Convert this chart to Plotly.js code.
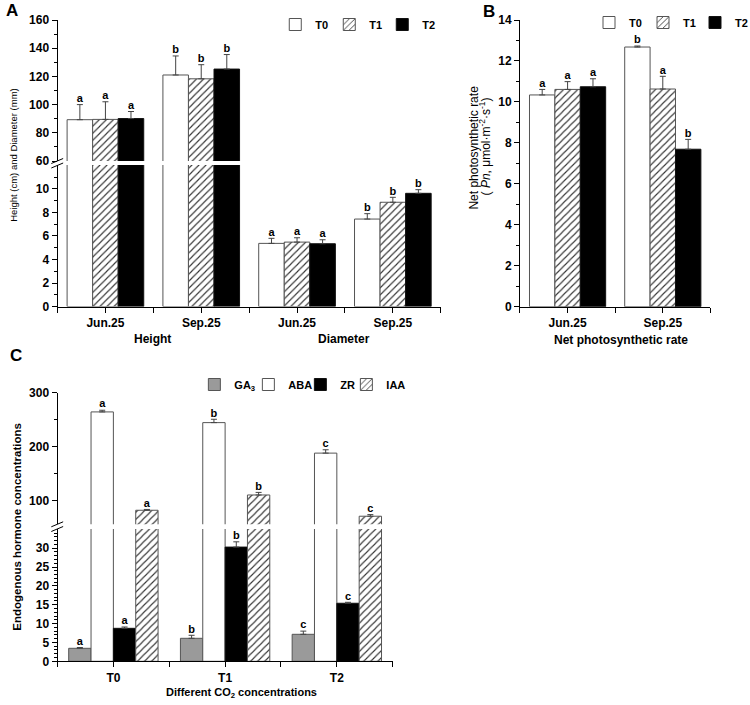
<!DOCTYPE html>
<html>
<head>
<meta charset="utf-8">
<script src="https://cdn.plot.ly/plotly-3.0.1.min.js"></script>
<style>
  body { margin: 0; background: #fff; }
  #graph { width: 750px; height: 705px; }
</style>
</head>
<body>
<div id="graph"></div>
<script>
// ---- data: panel A (height in cm, diameter in mm) ----
var catsA = ["Jun.25", "Sep.25", "Jun.25", "Sep.25"];
var groupsA = ["Height", "Diameter"];
var seriesA = ["T0", "T1", "T2"];
var valsA = [
    [89.3, 121.0, 5.37, 7.44],
    [89.5, 118.3, 5.48, 8.87],
    [90.1, 125.2, 5.34, 9.63]
];
var errA = [
    [10.7, 13.5, 0.43, 0.46],
    [12.5, 10.0, 0.37, 0.42],
    [5.0, 10.3, 0.34, 0.31]
];
var lettersA = [
    ["a", "b", "a", "b"],
    ["a", "b", "a", "b"],
    ["a", "b", "a", "b"]
];

// ---- data: panel B (net photosynthetic rate) ----
var catsB = ["Jun.25", "Sep.25"];
var seriesB = ["T0", "T1", "T2"];
var valsB = [
    [10.34, 12.68],
    [10.61, 10.63],
    [10.74, 7.69]
];
var errB = [
    [0.27, 0.05],
    [0.38, 0.62],
    [0.39, 0.48]
];
var lettersB = [
    ["a", "b"],
    ["a", "a"],
    ["a", "b"]
];

// ---- data: panel C (endogenous hormones) ----
var catsC = ["T0", "T1", "T2"];
var seriesC = ["GA<sub>3</sub>", "ABA", "ZR", "IAA"];
var valsC = [
    [3.45, 6.1, 7.16],
    [264.3, 244.4, 187.7],
    [8.75, 30.3, 15.4],
    [81.5, 109.9, 70.4]
];
var errC = [
    [0.2, 0.8, 0.85],
    [3.1, 6.2, 6.2],
    [0.35, 1.4, 0.25],
    [1.5, 4.8, 3.0]
];
var lettersC = [
    ["a", "b", "c"],
    ["a", "b", "c"],
    ["a", "b", "c"],
    ["a", "b", "c"]
];

// ---- styles ----
var FONT = "Liberation Sans, Arial, sans-serif";
var W = 750, H = 705;
function px(x) { return x / W; }
function py(y) { return 1 - y / H; }

var whiteBar = { color: "#ffffff", line: { color: "#555", width: 1 } };
var hatchBar = {
    color: "#ffffff", line: { color: "#555", width: 1 },
    pattern: { shape: "/", fgcolor: "#333", bgcolor: "#ffffff", size: 5, solidity: 0.22 }
};
var blackBar = { color: "#000000", line: { color: "#111", width: 1 } };
var grayBar = { color: "#9a9a9a", line: { color: "#555", width: 1 } };

var traces = [];

function barTrace(name, xs, ys, es, style, xa, ya, legendId, showlegend, lw) {
    return {
        type: "bar", name: name, x: xs, y: ys,
        xaxis: xa, yaxis: ya, offsetgroup: name,
        marker: style,
        error_y: {
            type: "data", symmetric: false, array: es,
            arrayminus: es.map(function () { return 0; }),
            color: "#444", thickness: 1, width: 3
        },
        legend: legendId, showlegend: showlegend, legendwidth: lw, hoverinfo: "skip"
    };
}

// significance letters, only for the points that fall inside this axis segment
function letterTrace(name, xs, ys, es, letters, xa, ya, range) {
    var lx = [], ly = [], lt = [];
    ys.forEach(function (v, i) {
        var top = v + es[i];
        if (top >= range[0] && top <= range[1]) {
            lx.push(xs[i]); ly.push(top); lt.push(letters[i]);
        }
    });
    if (!lx.length) return null;
    return {
        type: "scatter", mode: "text", name: name, x: lx, y: ly, text: lt,
        textposition: "top center",
        textfont: { family: FONT, size: 11, color: "#000", weight: "bold" },
        offsetgroup: name, xaxis: xa, yaxis: ya, cliponaxis: false,
        showlegend: false, hoverinfo: "skip"
    };
}

// one panel, possibly split over two y axes (broken axis)
function addPanel(cats, series, vals, errs, letters, styles, xa, yaxes, ranges, legendId, widths) {
    var xs = cats.map(function (c, i) { return i; });
    series.forEach(function (name, k) {
        yaxes.forEach(function (ya, j) {
            traces.push(barTrace(name, xs, vals[k], errs[k], styles[k], xa, ya, legendId, j === 0, widths[k]));
        });
    });
    series.forEach(function (name, k) {
        yaxes.forEach(function (ya, j) {
            var t = letterTrace(name, xs, vals[k], errs[k], letters[k], xa, ya, ranges[j]);
            if (t) traces.push(t);
        });
    });
}

var rangeA = [[0, 12.04], [60, 160]];
var rangeB = [[0, 14]];
var rangeC = [[0, 35.1], [55.4, 300]];

addPanel(catsA, seriesA, valsA, errA, lettersA, [whiteBar, hatchBar, blackBar], "x", ["y", "y2"], rangeA, "legend", [9, 8, 10]);
addPanel(catsB, seriesB, valsB, errB, lettersB, [whiteBar, hatchBar, blackBar], "x2", ["y3"], rangeB, "legend2", [9, 7, 10]);
addPanel(catsC, seriesC, valsC, errC, lettersC, [grayBar, whiteBar, blackBar, hatchBar], "x3", ["y4", "y5"], rangeC, "legend3", [9, 7, 1, 20]);

// ---- axes ----
var tickFont = { family: FONT, size: 12, color: "#000", weight: "bold" };

function steps(a, b, d, skip) {
    var out = [];
    for (var v = a; v <= b + 1e-9; v += d) {
        if (!skip || Math.abs(v / skip - Math.round(v / skip)) > 1e-6) out.push(v);
    }
    return out;
}

function xAxis(domain, anchor, cats) {
    var n = cats.length;
    return {
        domain: domain, anchor: anchor, range: [-0.5, n - 0.5],
        tickmode: "array", tickvals: cats.map(function (c, i) { return i; }), ticktext: cats,
        showline: true, linecolor: "#000", linewidth: 1,
        ticks: "outside", ticklen: 5, tickcolor: "#000",
        minor: { tickmode: "array", tickvals: steps(-0.5, n - 0.5, 1), ticks: "outside", ticklen: 5, tickcolor: "#000" },
        showgrid: false, zeroline: false, tickfont: tickFont, fixedrange: true
    };
}

function yAxis(domain, anchor, range, major, minor) {
    return {
        domain: domain, anchor: anchor, range: range,
        tickmode: "array", tickvals: major,
        showline: true, linecolor: "#000", linewidth: 1,
        ticks: "outside", ticklen: 5, tickcolor: "#000",
        minor: { tickmode: "array", tickvals: minor, ticks: "outside", ticklen: 3, tickcolor: "#000" },
        showgrid: false, zeroline: false, tickfont: tickFont, fixedrange: true
    };
}

var legendBase = {
    orientation: "h", xanchor: "left", yanchor: "top",
    font: { family: FONT, size: 11, color: "#000", weight: "bold" },
    bgcolor: "rgba(0,0,0,0)", itemclick: false, itemdoubleclick: false
};

function ann(text, x, y, opts) {
    var a = {
        text: text, x: px(x), y: py(y), xref: "paper", yref: "paper",
        showarrow: false, xanchor: "center", yanchor: "middle",
        font: { family: FONT, size: 12, color: "#000", weight: "bold" }
    };
    for (var k in opts) a[k] = opts[k];
    return a;
}

// little "//" marks where an axis is broken
function slash(x, y) {
    return {
        type: "line", xref: "paper", yref: "paper",
        x0: px(x - 6), y0: py(y + 2.5), x1: px(x + 6), y1: py(y - 2.5),
        line: { color: "#000", width: 1 }
    };
}

var layout = {
    width: W, height: H,
    margin: { l: 0, r: 0, t: 0, b: 0 },
    paper_bgcolor: "#fff", plot_bgcolor: "rgba(0,0,0,0)",
    barmode: "group", bargap: 0.2, bargroupgap: 0,
    scattermode: "group", scattergap: 0.2,
    showlegend: true,
    font: { family: FONT, color: "#000" },

    xaxis: xAxis([px(58.3), px(446.7)], "y", catsA),
    yaxis: yAxis([py(306.5), py(165)], "x", rangeA[0], steps(0, 10, 2), steps(1, 11, 2)),
    yaxis2: yAxis([py(161), py(20)], "x", rangeA[1], steps(60, 160, 20), steps(70, 150, 20)),

    xaxis2: xAxis([px(527), px(720)], "y3", catsB),
    yaxis3: yAxis([py(306.7), py(20)], "x2", rangeB[0], steps(0, 14, 2), steps(1, 13, 2)),

    xaxis3: xAxis([px(58.3), px(398)], "y4", catsC),
    yaxis4: yAxis([py(661.3), py(529)], "x3", rangeC[0], steps(0, 30, 5), steps(1, 35, 1, 5)),
    yaxis5: yAxis([py(524.3), py(392.7)], "x3", rangeC[1], [100, 200, 300], [150, 250]),

    legend: Object.assign({ x: px(279), y: py(10) }, legendBase),
    legend2: Object.assign({ x: px(597), y: py(8) }, legendBase),
    legend3: Object.assign({ x: px(197), y: py(370) }, legendBase),

    shapes: [slash(58, 161), slash(58, 165.5), slash(58, 524.3), slash(58, 529)],

    annotations: [
        ann("A", 4, 10, { xanchor: "left", font: { family: FONT, size: 17, color: "#000", weight: "bold" } }),
        ann("B", 487, 11, { xanchor: "left", font: { family: FONT, size: 17, color: "#000", weight: "bold" } }),
        ann("C", 8, 356, { xanchor: "left", font: { family: FONT, size: 17, color: "#000", weight: "bold" } }),

        ann(groupsA[0], 155, 339),
        ann(groupsA[1], 349, 339),
        ann("Net photosynthetic rate", 629, 340),
        ann("Different CO<sub>2</sub> concentrations", 245, 693, { font: { family: FONT, size: 11, color: "#000", weight: "bold" } }),

        ann("Height (cm) and Diameter (mm)", 13, 155, {
            textangle: -90, font: { family: FONT, size: 9.5, color: "#000" }
        }),
        ann("Net photosynthetic rate", 480, 148, {
            textangle: -90, font: { family: FONT, size: 12, color: "#000" }
        }),
        ann("( <i>Pn</i>, \u03bcmol\u00b7m<sup>-2</sup>\u00b7s<sup>-1</sup>)", 492, 146, {
            textangle: -90, font: { family: FONT, size: 12, color: "#000" }
        }),
        ann("Endogenous hormone concentrations", 17, 527, {
            textangle: -90, font: { family: FONT, size: 11.5, color: "#000", weight: "bold" }
        })
    ]
};

Plotly.newPlot("graph", traces, layout, { staticPlot: true, displayModeBar: false });
</script>
</body>
</html>
